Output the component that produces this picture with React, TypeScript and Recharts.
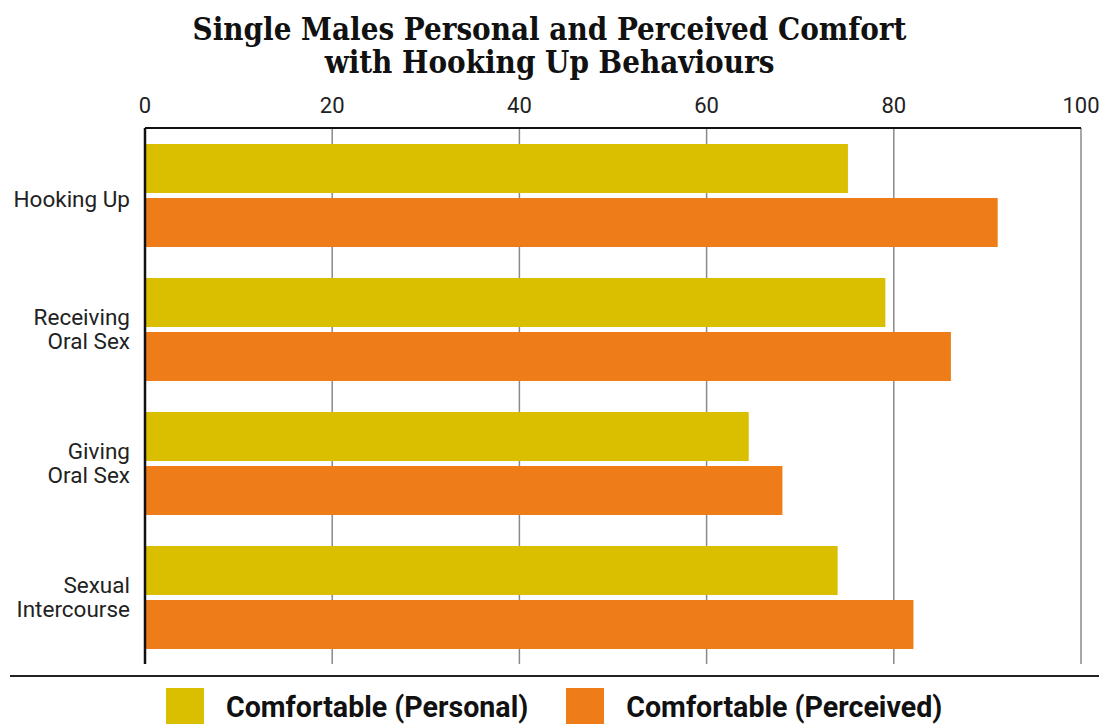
import React from 'react';
import { Bar, BarChart, CartesianGrid, XAxis, YAxis } from 'recharts';

const categories = ['Hooking Up', 'Receiving\nOral Sex', 'Giving\nOral Sex', 'Sexual\nIntercourse'];
const personal = [75.1, 79.1, 64.5, 74.0];
const perceived = [91.1, 86.1, 68.1, 82.1];
const xTicks = [0, 20, 40, 60, 80, 100];
const seriesNames = ['Comfortable (Personal)', 'Comfortable (Perceived)'];
const seriesColors = ['#dabe00', '#ee7d19'];

const data = categories.map((name, i) => ({
  name,
  personal: personal[i],
  perceived: perceived[i],
}));

const font = 'Roboto, "Noto Sans", sans-serif';

function CategoryTick({ x, y, payload }: any) {
  const lines = String(payload.value).split('\n');
  const lh = 24;
  // single-line labels sit a little low in the original
  const startY = y - ((lines.length - 1) * lh) / 2 + (lines.length === 1 ? 4 : 0);
  return (
    <text textAnchor="end" fontSize={22.5} fill="#222" fontFamily={font}>
      {lines.map((line, i) => (
        <tspan key={i} x={x - 7} y={startY + i * lh} dy="0.35em">
          {line}
        </tspan>
      ))}
    </text>
  );
}

export default function App() {
  return (
    <div
      style={{
        position: 'absolute',
        left: 0,
        top: 0,
        width: 1099,
        height: 724,
        background: '#fff',
        overflow: 'hidden',
      }}
    >
      <div
        style={{
          position: 'absolute',
          top: 13,
          left: 0,
          width: 1099,
          textAlign: 'center',
          fontFamily: '"DejaVu Serif Condensed", "DejaVu Serif", serif',
          fontStretch: 'condensed',
          fontWeight: 900,
          fontSize: 31,
          lineHeight: '33px',
          color: '#111',
        }}
      >
        Single Males Personal and Perceived Comfort
        <br />
        with Hooking Up Behaviours
      </div>

      <div style={{ position: 'absolute', left: 0, top: 0 }}>
        <BarChart
          width={1099}
          height={724}
          data={data}
          layout="vertical"
          margin={{ top: 98, right: 18, bottom: 60, left: 0 }}
          barSize={49}
          barGap={5}
        >
          <CartesianGrid horizontal={false} stroke="#8a8a8a" strokeWidth={1.5} />
          <XAxis
            type="number"
            orientation="top"
            domain={[0, 100]}
            ticks={xTicks}
            height={30}
            axisLine={{ stroke: '#111', strokeWidth: 2 }}
            tickLine={false}
            tickMargin={9}
            tick={{ fontSize: 22, fill: '#222', fontFamily: font }}
          />
          <YAxis
            type="category"
            dataKey="name"
            width={145}
            axisLine={{ stroke: '#111', strokeWidth: 2.5 }}
            tickLine={false}
            tick={<CategoryTick />}
          />
          <Bar dataKey="personal" name={seriesNames[0]} fill={seriesColors[0]} isAnimationActive={false} />
          <Bar dataKey="perceived" name={seriesNames[1]} fill={seriesColors[1]} isAnimationActive={false} />
        </BarChart>
      </div>

      <div
        style={{
          position: 'absolute',
          left: 10,
          top: 675,
          width: 1089,
          height: 2,
          background: '#222',
        }}
      />

      <div
        style={{
          position: 'absolute',
          left: 166,
          top: 688,
          display: 'flex',
          alignItems: 'flex-start',
          fontFamily: font,
          fontWeight: 700,
          fontSize: 28.6,
          color: '#111',
        }}
      >
        {seriesNames.map((name, i) => (
          <div key={name} style={{ display: 'flex', alignItems: 'flex-start', marginLeft: i === 0 ? 0 : 38 }}>
            <div style={{ width: 38, height: 38, background: seriesColors[i] }} />
            <div style={{ marginLeft: 22, lineHeight: '38px' }}>{name}</div>
          </div>
        ))}
      </div>
    </div>
  );
}
